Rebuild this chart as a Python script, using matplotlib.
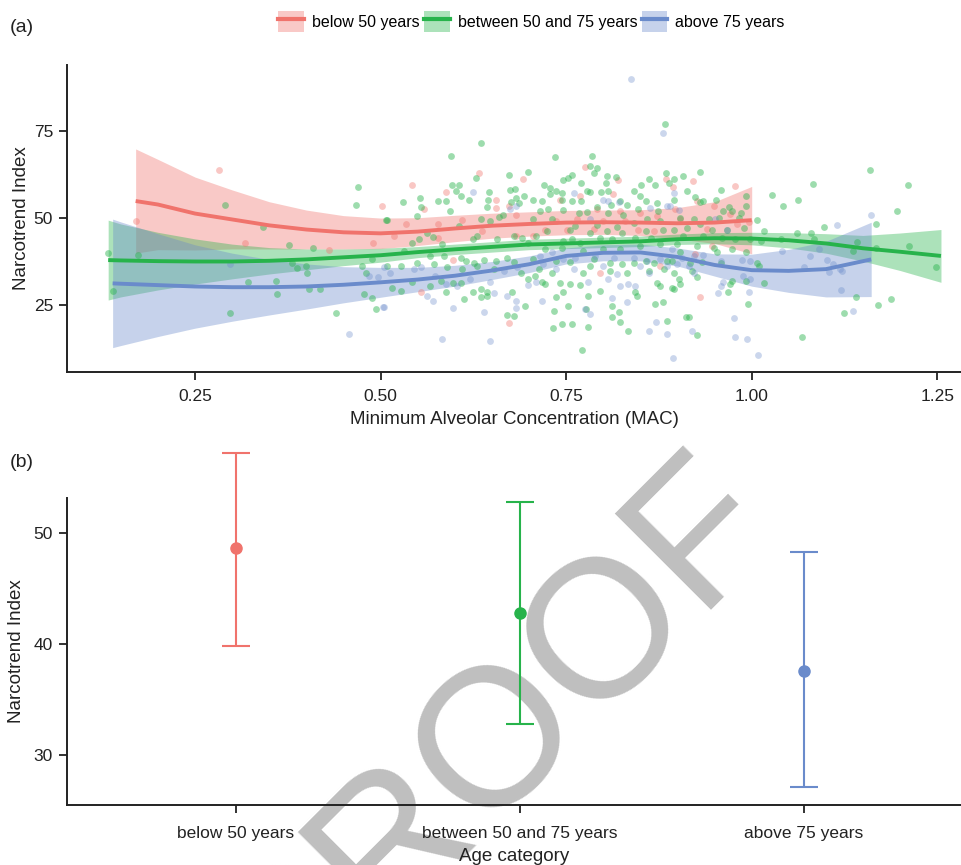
import matplotlib
matplotlib.use("Agg")
import matplotlib.pyplot as plt
from matplotlib.patches import Patch
from matplotlib.lines import Line2D
from matplotlib.legend_handler import HandlerTuple

plt.rcParams['font.family'] = ['Liberation Sans', 'DejaVu Sans']

# ---------------- data ----------------
groups = ["below 50 years", "between 50 and 75 years", "above 75 years"]
colors = ["#F0736C", "#27B34B", "#6A8BCB"]

# scatter: (MAC, Narcotrend) per group
red_x = [0.282, 0.170, 0.317, 0.430, 0.502, 0.490,
         0.633, 0.692, 0.543, 0.588, 0.558, 0.655, 0.655, 0.673, 0.682, 0.534, 0.577, 0.610, 0.518,
         0.577, 0.597, 0.554, 0.673, 0.637, 0.682,
         0.776, 0.820, 0.884, 0.742, 0.769, 0.813, 0.791, 0.823, 0.850, 0.737, 0.764, 0.800, 0.829,
         0.872, 0.722, 0.751, 0.787, 0.847, 0.868, 0.706, 0.796, 0.877,
         0.921, 0.894, 0.977, 0.926, 0.949, 0.897, 0.971, 0.904, 0.940, 0.980, 0.996, 0.947, 0.931, 0.924]
red_y = [63.8, 49.0, 42.6, 40.8, 53.3, 42.8,
         62.9, 61.2, 59.5, 57.4, 52.4, 55.1, 52.7, 53.3, 50.7, 48.1, 48.1, 49.2, 44.7,
         44.1, 37.9, 28.7, 19.7, 46.2, 44.7,
         64.5, 60.8, 61.2, 55.2, 56.2, 56.9, 52.4, 51.9, 51.4, 49.0, 49.5, 49.0, 49.0,
         50.5, 46.6, 46.5, 46.8, 46.6, 46.2, 44.7, 34.2, 36.1,
         60.7, 58.9, 59.1, 54.8, 53.5, 52.4, 51.1, 49.5, 46.8, 48.1, 48.8, 41.9, 27.1, 39.5]

green_x = [0.291, 0.133, 0.173, 0.140, 0.341, 0.376, 0.409, 0.470, 0.467, 0.507, 0.489, 0.475, 0.381,
           0.387, 0.400, 0.401, 0.322, 0.359, 0.361, 0.404, 0.419, 0.297, 0.440, 0.478, 0.488, 0.494, 0.480,
           0.883, 0.635, 0.595, 0.735, 0.785,
           0.673, 0.699, 0.596, 0.606, 0.602, 0.608, 0.629, 0.619, 0.646, 0.530, 0.553, 0.578, 0.588,
           0.554, 0.594, 0.549, 0.508, 0.674, 0.681, 0.693, 0.682, 0.676, 0.686, 0.645, 0.644, 0.659,
           0.665, 0.635, 0.648, 0.606, 0.563, 0.570, 0.552, 0.543, 0.583, 0.624, 0.630, 0.657, 0.680,
           0.691, 0.698, 0.531, 0.567, 0.585, 0.608, 0.615, 0.626, 0.639, 0.655, 0.671, 0.680, 0.509,
           0.527, 0.549, 0.572, 0.590, 0.610, 0.630, 0.653, 0.689, 0.698, 0.516, 0.527, 0.543, 0.567,
           0.581, 0.597, 0.608, 0.625, 0.635, 0.644, 0.635, 0.643, 0.612, 0.677, 0.695, 0.670, 0.680, 0.588,
           0.782, 0.792, 0.788, 0.746, 0.758, 0.753, 0.770, 0.805, 0.817, 0.804, 0.807, 0.797, 0.782,
           0.778, 0.841, 0.851, 0.861, 0.870, 0.884, 0.888, 0.720, 0.728, 0.728, 0.706, 0.717, 0.737,
           0.745, 0.744, 0.758, 0.770, 0.792, 0.810, 0.823, 0.832, 0.850, 0.857, 0.872, 0.874, 0.847,
           0.715, 0.726, 0.746, 0.767, 0.778, 0.807, 0.827, 0.859, 0.877, 0.706, 0.731, 0.762, 0.791,
           0.818, 0.841, 0.724, 0.755, 0.782, 0.805, 0.825, 0.857, 0.881, 0.710, 0.746, 0.758, 0.769,
           0.795, 0.812, 0.843, 0.865, 0.722, 0.744, 0.773, 0.800, 0.823, 0.850, 0.877, 0.706, 0.737,
           0.755, 0.787, 0.809, 0.825, 0.841, 0.857, 0.868, 0.886, 0.713, 0.731, 0.773, 0.782, 0.809,
           0.832, 0.861, 0.882, 0.708, 0.717, 0.722, 0.742, 0.755, 0.769, 0.796, 0.746, 0.873, 0.877,
           0.843, 0.846, 0.737, 0.870, 0.880, 0.753, 0.780, 0.777, 0.812, 0.821, 0.812, 0.822, 0.734,
           0.732, 0.745, 0.758, 0.779, 0.833, 0.771, 0.886,
           0.895, 0.908, 0.931, 0.913, 0.923, 0.958, 0.952, 1.028, 1.062, 1.042, 0.930, 0.935, 0.895,
           0.969, 0.962, 0.974, 0.985, 0.992, 0.992, 0.983, 0.956, 0.942, 0.922, 0.904, 1.007, 0.913,
           0.931, 0.947, 0.967, 0.989, 0.895, 1.016, 1.061, 0.908, 0.935, 0.960, 0.978, 0.998, 1.012,
           1.039, 0.899, 0.926, 0.949, 0.974, 0.992, 0.953, 0.904, 0.893, 0.917, 0.933, 0.958, 0.895,
           0.920, 0.926, 0.902, 0.904, 0.974, 0.971, 0.992, 1.016, 1.007, 1.010, 0.968, 0.893, 0.895,
           0.995, 0.912, 0.916, 0.926, 1.068,
           1.160, 1.082, 1.210, 1.196, 1.168, 1.098, 1.080, 1.084, 1.142, 1.136, 1.168, 1.212, 1.248,
           1.141, 1.170, 1.188, 1.124]
green_y = [53.8, 39.7, 39.2, 28.8, 47.3, 42.2, 41.3, 58.7, 53.6, 49.2, 38.0, 36.1, 37.1,
           35.4, 36.1, 34.2, 31.5, 31.7, 28.1, 29.4, 29.4, 22.5, 22.5, 28.0, 26.8, 23.8, 34.2,
           76.9, 71.5, 67.9, 67.6, 67.9,
           62.4, 63.1, 59.4, 59.4, 57.8, 56.2, 61.4, 55.0, 57.4, 54.5, 55.6, 54.8, 54.8,
           53.1, 51.8, 50.5, 49.3, 57.9, 58.4, 56.2, 55.6, 54.6, 54.1, 55.0, 53.1, 50.3,
           50.9, 49.5, 49.0, 47.6, 45.7, 44.5, 43.8, 42.8, 42.3, 43.8, 44.7, 43.8, 44.7,
           44.3, 42.8, 40.4, 39.0, 39.0, 38.5, 37.6, 37.1, 37.9, 37.6, 38.5, 37.3, 36.1,
           36.1, 37.1, 36.6, 35.7, 35.2, 36.1, 35.2, 34.2, 32.5, 29.9, 28.8, 31.4, 30.4,
           31.8, 31.2, 31.2, 28.7, 29.6, 28.5, 27.1, 27.5, 26.6, 28.7, 24.7, 22.1, 21.8, 28.7,
           64.8, 64.3, 62.9, 61.0, 62.2, 61.5, 60.0, 61.9, 61.7, 60.0, 57.6, 57.3, 57.3,
           57.6, 57.6, 59.5, 61.2, 59.5, 62.9, 60.0, 59.5, 58.6, 56.7, 55.2, 54.8, 57.6,
           57.0, 55.2, 54.8, 54.8, 53.1, 53.8, 54.8, 53.8, 56.2, 54.8, 54.1, 51.9, 52.6,
           51.9, 52.4, 52.2, 51.4, 51.6, 51.4, 50.7, 49.5, 49.0, 49.7, 49.5, 47.6, 47.8,
           47.4, 48.6, 46.2, 46.6, 45.7, 46.2, 45.7, 46.2, 46.6, 44.7, 43.3, 43.8, 42.8,
           44.3, 43.8, 44.3, 44.3, 40.9, 41.4, 40.4, 40.9, 40.9, 41.9, 42.3, 38.1, 37.6,
           37.3, 38.1, 37.1, 36.6, 37.1, 37.6, 37.1, 37.6, 35.2, 34.2, 34.2, 36.1, 34.7,
           34.2, 34.7, 35.2, 33.3, 31.4, 30.9, 31.2, 30.9, 30.6, 29.0, 28.7, 31.2, 30.4,
           28.5, 27.5, 27.1, 25.2, 25.6, 24.7, 27.5, 23.7, 24.5, 22.8, 21.3, 20.1, 23.2,
           18.2, 19.4, 19.4, 18.5, 17.3, 11.8, 20.4,
           61.2, 61.9, 63.1, 57.8, 55.9, 58.1, 55.1, 56.4, 55.1, 53.3, 54.5, 54.8, 55.2,
           53.1, 51.9, 51.9, 51.4, 56.2, 53.3, 50.0, 50.0, 49.5, 49.5, 50.0, 49.2, 47.1,
           48.1, 46.6, 46.6, 47.1, 46.6, 46.2, 45.7, 44.7, 44.7, 44.3, 43.8, 43.8, 43.3,
           43.8, 42.3, 41.9, 41.4, 40.9, 40.0, 40.0, 40.0, 37.6, 37.1, 37.3, 37.1, 34.2,
           34.7, 32.8, 32.3, 30.9, 31.8, 30.9, 31.8, 31.2, 37.1, 36.1, 28.5, 29.9, 29.4,
           25.2, 21.3, 21.5, 16.1, 15.8,
           63.8, 59.8, 59.3, 51.9, 48.1, 47.2, 45.7, 44.0, 43.0, 40.4, 41.4, 41.9, 35.7,
           27.1, 25.0, 26.6, 22.6]

blue_x = [0.297, 0.458, 0.503, 0.485, 0.497, 0.504, 0.838, 0.880,
          0.624, 0.683, 0.674, 0.513, 0.554, 0.574, 0.588, 0.603, 0.621, 0.648, 0.666, 0.684,
          0.504, 0.562, 0.570, 0.598, 0.640, 0.653, 0.671, 0.683, 0.682, 0.583, 0.648, 0.698, 0.545,
          0.760, 0.799, 0.807, 0.821, 0.863, 0.886, 0.782, 0.715, 0.731, 0.746, 0.762, 0.789, 0.814,
          0.841, 0.859, 0.877, 0.886, 0.719, 0.737, 0.760, 0.800, 0.850, 0.710, 0.780, 0.807, 0.818,
          0.834, 0.823, 0.843, 0.861, 0.717, 0.812, 0.832, 0.776, 0.782, 0.861, 0.871, 0.886,
          0.896, 0.890, 0.902, 0.951, 0.967, 0.893, 0.906, 0.922, 0.935, 0.915, 0.899, 0.958, 0.987,
          0.998, 1.041, 0.922, 0.998, 0.962, 0.959, 0.988, 0.954, 0.997, 0.920, 0.976, 0.978, 0.994,
          0.894, 1.009,
          1.115, 1.161, 1.091, 1.078, 1.102, 1.070, 1.109, 1.104, 1.119, 1.121, 1.120, 1.137]
blue_y = [36.8, 16.6, 24.4, 33.1, 32.8, 35.7, 90.0, 74.5,
          57.4, 53.3, 52.4, 34.2, 35.7, 33.3, 30.9, 30.4, 32.3, 31.4, 34.7, 35.7,
          24.4, 27.5, 25.9, 23.9, 23.0, 28.2, 27.5, 26.1, 24.0, 15.1, 14.5, 30.6, 35.2,
          57.1, 55.2, 54.8, 54.5, 52.9, 53.5, 49.5, 39.0, 40.0, 38.1, 38.5, 39.0, 38.5,
          38.5, 37.6, 38.1, 36.1, 36.6, 35.2, 35.2, 36.1, 36.1, 31.4, 31.4, 32.3, 33.8,
          30.9, 30.4, 30.4, 34.2, 26.1, 26.8, 25.6, 23.7, 22.3, 17.5, 19.9, 16.6,
          57.0, 53.5, 52.2, 49.7, 46.6, 40.9, 38.5, 39.0, 39.2, 36.1, 36.6, 37.6, 37.9,
          37.6, 40.4, 34.2, 32.3, 31.4, 30.4, 33.3, 28.2, 28.7, 17.5, 21.2, 15.6, 15.1,
          9.6, 10.4,
          48.0, 50.8, 40.9, 39.0, 37.8, 35.9, 36.6, 34.5, 35.2, 34.7, 29.2, 23.1]

# smoothed fits: x grid, fitted value, confidence half-width
red_fx = [0.17, 0.20, 0.25, 0.30, 0.35, 0.40, 0.45, 0.50, 0.55, 0.60, 0.65, 0.70, 0.75, 0.80, 0.85, 0.90, 0.95, 1.00]
red_fy = [54.8, 53.8, 51.2, 49.5, 47.8, 46.6, 45.8, 45.5, 46.0, 46.9, 47.7, 48.2, 48.6, 48.7, 48.6, 48.4, 48.6, 49.3]
red_ci = [15.0, 13.0, 10.5, 8.5, 6.8, 5.6, 4.8, 4.4, 4.0, 3.8, 3.6, 3.5, 3.5, 3.5, 3.7, 4.5, 6.0, 9.7]

green_fx = [0.133, 0.15, 0.20, 0.25, 0.30, 0.35, 0.40, 0.45, 0.50, 0.55, 0.60, 0.65, 0.70, 0.75, 0.80,
            0.85, 0.90, 0.95, 1.00, 1.05, 1.10, 1.15, 1.20, 1.255]
green_fy = [37.8, 37.7, 37.5, 37.4, 37.4, 37.6, 38.0, 38.6, 39.2, 40.1, 40.9, 41.6, 42.3, 42.6, 42.9,
            43.2, 43.8, 44.1, 44.0, 43.5, 42.6, 41.2, 40.2, 39.0]
green_ci = [11.5, 10.5, 8.3, 6.5, 5.0, 3.8, 3.0, 2.4, 2.0, 1.6, 1.5, 1.5, 1.5, 1.5, 1.5,
            1.5, 1.5, 1.6, 1.8, 2.2, 2.8, 3.7, 5.4, 7.6]

blue_fx = [0.139, 0.15, 0.20, 0.25, 0.30, 0.35, 0.40, 0.45, 0.50, 0.55, 0.60, 0.65, 0.70, 0.75, 0.80,
           0.85, 0.90, 0.95, 1.00, 1.05, 1.10, 1.161]
blue_fy = [31.1, 31.0, 30.6, 30.2, 30.0, 30.0, 30.2, 30.7, 31.4, 32.2, 33.3, 34.8, 36.6, 39.0, 39.9,
           40.0, 38.7, 36.4, 34.9, 34.7, 35.2, 38.0]
blue_ci = [18.5, 17.8, 14.8, 12.0, 9.8, 8.0, 6.5, 5.2, 4.3, 3.5, 3.0, 2.6, 2.4, 2.3, 2.3,
           2.4, 2.6, 3.2, 4.6, 6.2, 8.0, 10.7]

# panel (b): mean and interval per age category
cat_mean = [48.6, 42.8, 37.6]
cat_low = [39.8, 32.8, 27.1]
cat_high = [57.2, 52.8, 48.3]

a_xticks = [0.25, 0.50, 0.75, 1.00, 1.25]
a_xticklabels = ["0.25", "0.50", "0.75", "1.00", "1.25"]
a_yticks = [25, 50, 75]
b_yticks = [30, 40, 50]

# ---------------- figure ----------------
fig = plt.figure(figsize=(9.61, 8.65), dpi=100)
fig.patch.set_facecolor("white")

# watermark behind everything
fig.text(0.518, 0.150, "PROOF", fontsize=142, color="#BFBFBF", rotation=45,
         ha="center", va="center", rotation_mode="anchor", zorder=-5,
         family=["Liberation Sans", "DejaVu Sans"])

spine_c = "#222222"

def style(ax):
    for s in ["top", "right"]:
        ax.spines[s].set_visible(False)
    for s in ["left", "bottom"]:
        ax.spines[s].set_linewidth(1.4)
        ax.spines[s].set_color(spine_c)
    ax.tick_params(axis="both", direction="out", length=6, width=1.3, color=spine_c,
                   labelsize=12.5, labelcolor="#222222", pad=4)
    ax.set_facecolor("none")

# ---- panel (a)
ax1 = fig.add_axes([0.0697, 0.570, 0.9303, 0.355])
style(ax1)
ax1.tick_params(axis="x", pad=6)
fits = [(red_fx, red_fy, red_ci), (green_fx, green_fy, green_ci), (blue_fx, blue_fy, blue_ci)]
pts = [(red_x, red_y), (green_x, green_y), (blue_x, blue_y)]
pt_alpha = [0.4, 0.45, 0.35]
for (fx, fy, ci), c in zip(fits, colors):
    lo = [m - h for m, h in zip(fy, ci)]
    hi = [m + h for m, h in zip(fy, ci)]
    ax1.fill_between(fx, lo, hi, color=c, alpha=0.38, linewidth=0, zorder=1)
for (px, py), c, a in zip(pts, colors, pt_alpha):
    ax1.scatter(px, py, s=24, color=c, alpha=a, linewidths=0, zorder=2)
for (fx, fy, ci), c in zip(fits, colors):
    ax1.plot(fx, fy, color=c, lw=2.8, zorder=3, solid_capstyle="butt")

ax1.set_xlim(0.0775, 1.282)
ax1.set_ylim(5.6, 94)
ax1.set_xticks(a_xticks)
ax1.set_xticklabels(a_xticklabels)
ax1.set_yticks(a_yticks)
ax1.set_xlabel("Minimum Alveolar Concentration (MAC)", fontsize=13.5, color="#222222", labelpad=5)
ax1.set_ylabel("Narcotrend Index", fontsize=13.5, color="#222222", labelpad=3)

handles = [(Patch(facecolor=c, alpha=0.38, edgecolor="none"), Line2D([], [], color=c, lw=3))
           for c in colors]
fig.legend(handles, groups, loc="center", bbox_to_anchor=(0.553, 0.975), ncol=3, frameon=False,
           fontsize=11.5, handlelength=1.6, handleheight=1.7, handletextpad=0.5,
           columnspacing=0.3, handler_map={tuple: HandlerTuple(ndivide=1, pad=0)})

fig.text(0.010, 0.968, "(a)", fontsize=14, color="#222222", va="center")
fig.text(0.010, 0.465, "(b)", fontsize=14, color="#222222", va="center")

# ---- panel (b)
ax2 = fig.add_axes([0.0697, 0.0694, 0.9303, 0.355])
style(ax2)
ax2.tick_params(axis="x", pad=9)
xpos = list(range(len(groups)))
for i, c in enumerate(colors):
    ax2.errorbar([xpos[i]], [cat_mean[i]],
                 yerr=[[cat_mean[i] - cat_low[i]], [cat_high[i] - cat_mean[i]]],
                 fmt="o", color=c, ecolor=c, elinewidth=1.5, capsize=10, capthick=1.5,
                 markersize=8, clip_on=False, zorder=3)
ax2.set_xlim(-0.595, 2.553)
ax2.set_ylim(25.5, 53.15)
ax2.set_xticks(xpos)
ax2.set_xticklabels(groups)
ax2.set_yticks(b_yticks)
ax2.set_xlabel("Age category", fontsize=13.5, color="#222222", labelpad=5)
ax2.set_ylabel("Narcotrend Index", fontsize=13.5, color="#222222", labelpad=6)

fig.savefig("out.png", dpi=100, facecolor="white")
